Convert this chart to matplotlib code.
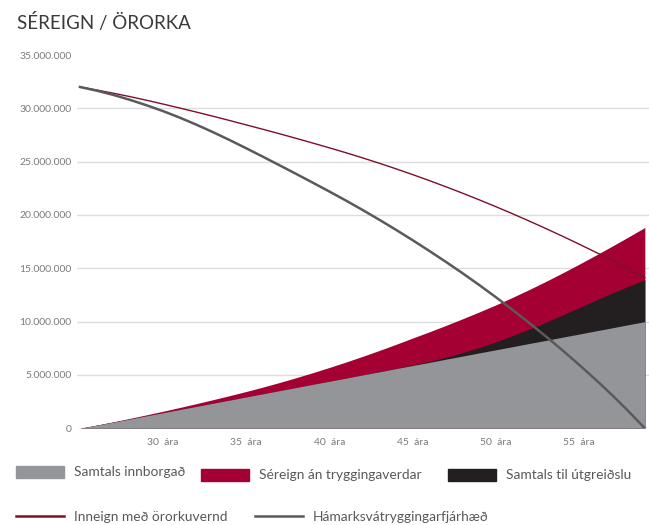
import matplotlib
matplotlib.use("Agg")
import matplotlib.pyplot as plt
from matplotlib.patches import Patch
from matplotlib.lines import Line2D
from matplotlib.ticker import FuncFormatter

plt.rcParams['font.family'] = ['Lato', 'DejaVu Sans']

# ages 25..59
ages = list(range(25, 60))

# Samtals innborgað (grey area), millions kr
innborgad = [0.0, 0.29, 0.58, 0.87, 1.17, 1.46, 1.76, 2.05, 2.35, 2.64,
             2.94, 3.23, 3.53, 3.82, 4.12, 4.41, 4.70, 5.00, 5.29, 5.59,
             5.88, 6.17, 6.47, 6.76, 7.06, 7.35, 7.64, 7.94, 8.23, 8.53,
             8.82, 9.12, 9.41, 9.71, 10.0]

# Samtals til útgreiðslu (black area top)
utgreidsla = [0.0, 0.29, 0.58, 0.87, 1.17, 1.46, 1.76, 2.05, 2.35, 2.64,
              2.94, 3.23, 3.53, 3.82, 4.12, 4.41, 4.70, 5.00, 5.30, 5.61,
              5.93, 6.27, 6.65, 7.08, 7.56, 8.09, 8.67, 9.28, 9.92, 10.59,
              11.28, 11.98, 12.66, 13.31, 13.93]

# Séreign án tryggingaverdar (red area top)
sereign = [0.0, 0.30, 0.61, 0.93, 1.26, 1.60, 1.95, 2.31, 2.68, 3.06,
           3.45, 3.86, 4.29, 4.74, 5.21, 5.70, 6.21, 6.74, 7.29, 7.86,
           8.45, 9.03, 9.63, 10.25, 10.89, 11.55, 12.25, 12.98, 13.74, 14.53,
           15.35, 16.19, 17.05, 17.93, 18.83]

# Inneign með örorkuvernd (thin red line)
inneign = [32.0, 31.72, 31.42, 31.10, 30.76, 30.40, 30.03, 29.65, 29.26, 28.86,
           28.45, 28.04, 27.62, 27.19, 26.75, 26.30, 25.84, 25.36, 24.86, 24.34,
           23.80, 23.24, 22.66, 22.06, 21.44, 20.80, 20.14, 19.46, 18.76, 18.04,
           17.30, 16.54, 15.76, 14.96, 14.14]

# Hámarksvátryggingarfjárhæð (grey line)
hamarks = [32.0, 31.66, 31.26, 30.80, 30.29, 29.74, 29.13, 28.47, 27.77, 27.03,
           26.26, 25.47, 24.67, 23.86, 23.04, 22.21, 21.36, 20.48, 19.57, 18.63,
           17.66, 16.66, 15.63, 14.57, 13.47, 12.33, 11.15, 9.93, 8.67, 7.37,
           6.02, 4.62, 3.16, 1.62, 0.0]

x_ticks = [30, 35, 40, 45, 50, 55]
x_labels = ['30  ára', '35  ára', '40  ára', '45  ára', '50  ára', '55  ára']
y_ticks = [0, 5, 10, 15, 20, 25, 30, 35]

RED = '#a50034'
BLACK = '#231f20'
GREY = '#939598'
LINE_RED = '#7d1029'
LINE_GREY = '#5a5a5c'
TXT = '#58595b'

M = 1e6
fig = plt.figure(figsize=(6.49, 5.25), dpi=100)
ax = fig.add_axes([77 / 649, 96.7 / 525, 572 / 649, 373.3 / 525])

ax.fill_between(ages, 0, [v * M for v in sereign], color=RED, lw=0)
ax.fill_between(ages, 0, [v * M for v in utgreidsla], color=BLACK, lw=0)
ax.fill_between(ages, 0, [v * M for v in innborgad], color=GREY, lw=0)
ax.plot(ages, [v * M for v in inneign], color=LINE_RED, lw=1.0)
ax.plot(ages, [v * M for v in hamarks], color=LINE_GREY, lw=1.8)

ax.set_xlim(24.82, 59.25)
ax.set_ylim(0, 35 * M)
ax.set_xticks(x_ticks)
ax.set_xticklabels(x_labels)
ax.set_yticks([v * M for v in y_ticks])
ax.yaxis.set_major_formatter(FuncFormatter(lambda v, p: f'{int(v):,}'.replace(',', '.')))
ax.tick_params(length=0, labelsize=7.5, labelcolor='#7a7a7a', pad=4)
ax.tick_params(axis='x', pad=7)
for s in ax.spines.values():
    s.set_visible(False)
ax.set_axisbelow(True)
ax.yaxis.grid(True, color='#dddddd', lw=1)
ax.get_ygridlines()[-1].set_visible(False)

fig.text(17 / 649, 1 - 22 / 525, 'SÉREIGN / ÖRORKA', fontsize=13.5,
         color='#3a3a3a', va='center', ha='left')

# legend entries placed one by one
entries = [
    (Patch(color=GREY), 'Samtals innborgað', 16, 472),
    (Patch(color=RED), 'Séreign án tryggingaverdar', 201, 475),
    (Patch(color=BLACK), 'Samtals til útgreiðslu', 448, 475),
    (Line2D([], [], color=LINE_RED, lw=1.8), 'Inneign með örorkuvernd', 16, 517),
    (Line2D([], [], color=LINE_GREY, lw=1.8), 'Hámarksvátryggingarfjárhæð', 255, 517),
]
for h, lab, px, py in entries:
    fig.legend(handles=[h], labels=[lab], loc='center left',
               bbox_to_anchor=(px / 649, 1 - py / 525), frameon=False,
               borderpad=0, borderaxespad=0, handlelength=3.5,
               handleheight=1.0, handletextpad=0.7, fontsize=9.9,
               labelcolor=TXT)

fig.savefig('out.png', dpi=100)
